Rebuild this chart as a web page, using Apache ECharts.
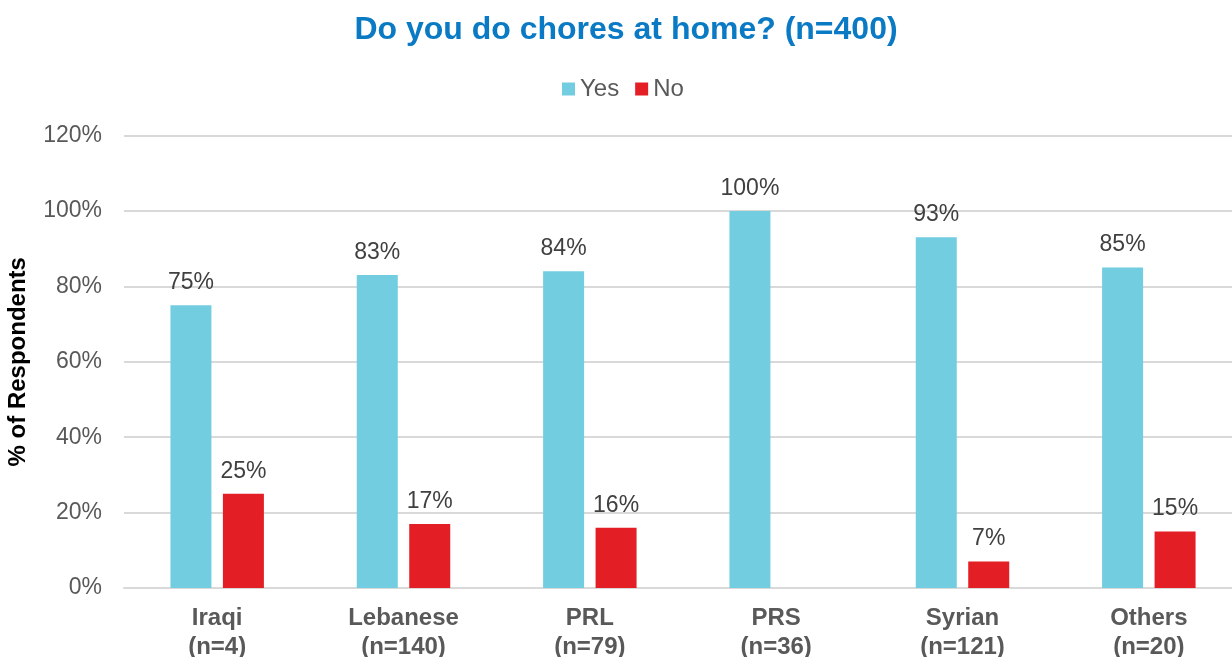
<!DOCTYPE html>
<html>
<head>
<meta charset="utf-8">
<script src="https://cdn.jsdelivr.net/npm/echarts@6/dist/echarts.min.js"></script>
<style>
  html, body { margin: 0; padding: 0; background: #ffffff; }
  #chart { width: 1232px; height: 657px; }
</style>
</head>
<body>
<div id="chart"></div>
<script>
// Groups and their sample sizes
const categories = ['Iraqi', 'Lebanese', 'PRL', 'PRS', 'Syrian', 'Others'];
const sampleSizes = [4, 140, 79, 36, 121, 20];

// Share of respondents (%) answering each option
const yesValues = [75, 83, 84, 100, 93, 85];
const noValues = [25, 17, 16, null, 7, 15];

// Value axis ticks
const yMin = 0;
const yMax = 120;
const yStep = 20;

const FONT = '"Liberation Sans", Arial, Helvetica, sans-serif';

const chart = echarts.init(document.getElementById('chart'), null, { renderer: 'canvas' });

const labelStyle = {
  show: true,
  position: 'top',
  distance: 11,
  fontFamily: FONT,
  fontSize: 23,
  color: '#404040',
  formatter: p => (p.value == null ? '' : p.value + '%')
};

chart.setOption({
  backgroundColor: '#ffffff',
  animation: false,
  title: {
    text: 'Do you do chores at home? (n=400)',
    left: 621,
    textAlign: 'center',
    top: 9,
    textStyle: {
      fontFamily: FONT,
      fontSize: 32,
      fontWeight: 'bold',
      color: '#0a7ac4'
    }
  },
  legend: {
    top: 72,
    left: 557,
    icon: 'rect',
    itemWidth: 13,
    itemHeight: 13,
    itemGap: 16,
    textStyle: { fontFamily: FONT, fontSize: 24, color: '#595959' },
    data: ['Yes', 'No']
  },
  grid: {
    left: 124,
    top: 135.5,
    width: 1118,
    height: 452.5,
    outerBoundsMode: 'none'
  },
  xAxis: {
    type: 'category',
    data: categories,
    axisTick: { show: false },
    axisLine: { show: true, lineStyle: { color: '#d9d9d9', width: 2 } },
    axisLabel: {
      interval: 0,
      margin: 16,
      fontFamily: FONT,
      fontSize: 24,
      fontWeight: 'bold',
      color: '#595959',
      lineHeight: 29,
      formatter: (v, i) => v + '\n(n=' + sampleSizes[i] + ')'
    }
  },
  yAxis: {
    type: 'value',
    min: yMin,
    max: yMax,
    interval: yStep,
    name: '% of Respondents',
    nameLocation: 'middle',
    nameRotate: 90,
    nameGap: 94,
    nameTextStyle: {
      fontFamily: FONT,
      fontSize: 24,
      fontWeight: 'bold',
      color: '#000000'
    },
    axisLine: { show: false },
    axisTick: { show: false },
    splitLine: { lineStyle: { color: '#d9d9d9', width: 2 } },
    axisLabel: {
      margin: 22,
      fontFamily: FONT,
      fontSize: 23,
      color: '#595959',
      formatter: '{value}%'
    }
  },
  series: [
    {
      name: 'Yes',
      type: 'bar',
      data: yesValues,
      barWidth: '22%',
      barGap: '28%',
      itemStyle: { color: '#72cde0' },
      label: labelStyle
    },
    {
      name: 'No',
      type: 'bar',
      data: noValues,
      barWidth: '22%',
      barGap: '28%',
      itemStyle: { color: '#e31e24' },
      label: labelStyle
    }
  ]
});
</script>
</body>
</html>
